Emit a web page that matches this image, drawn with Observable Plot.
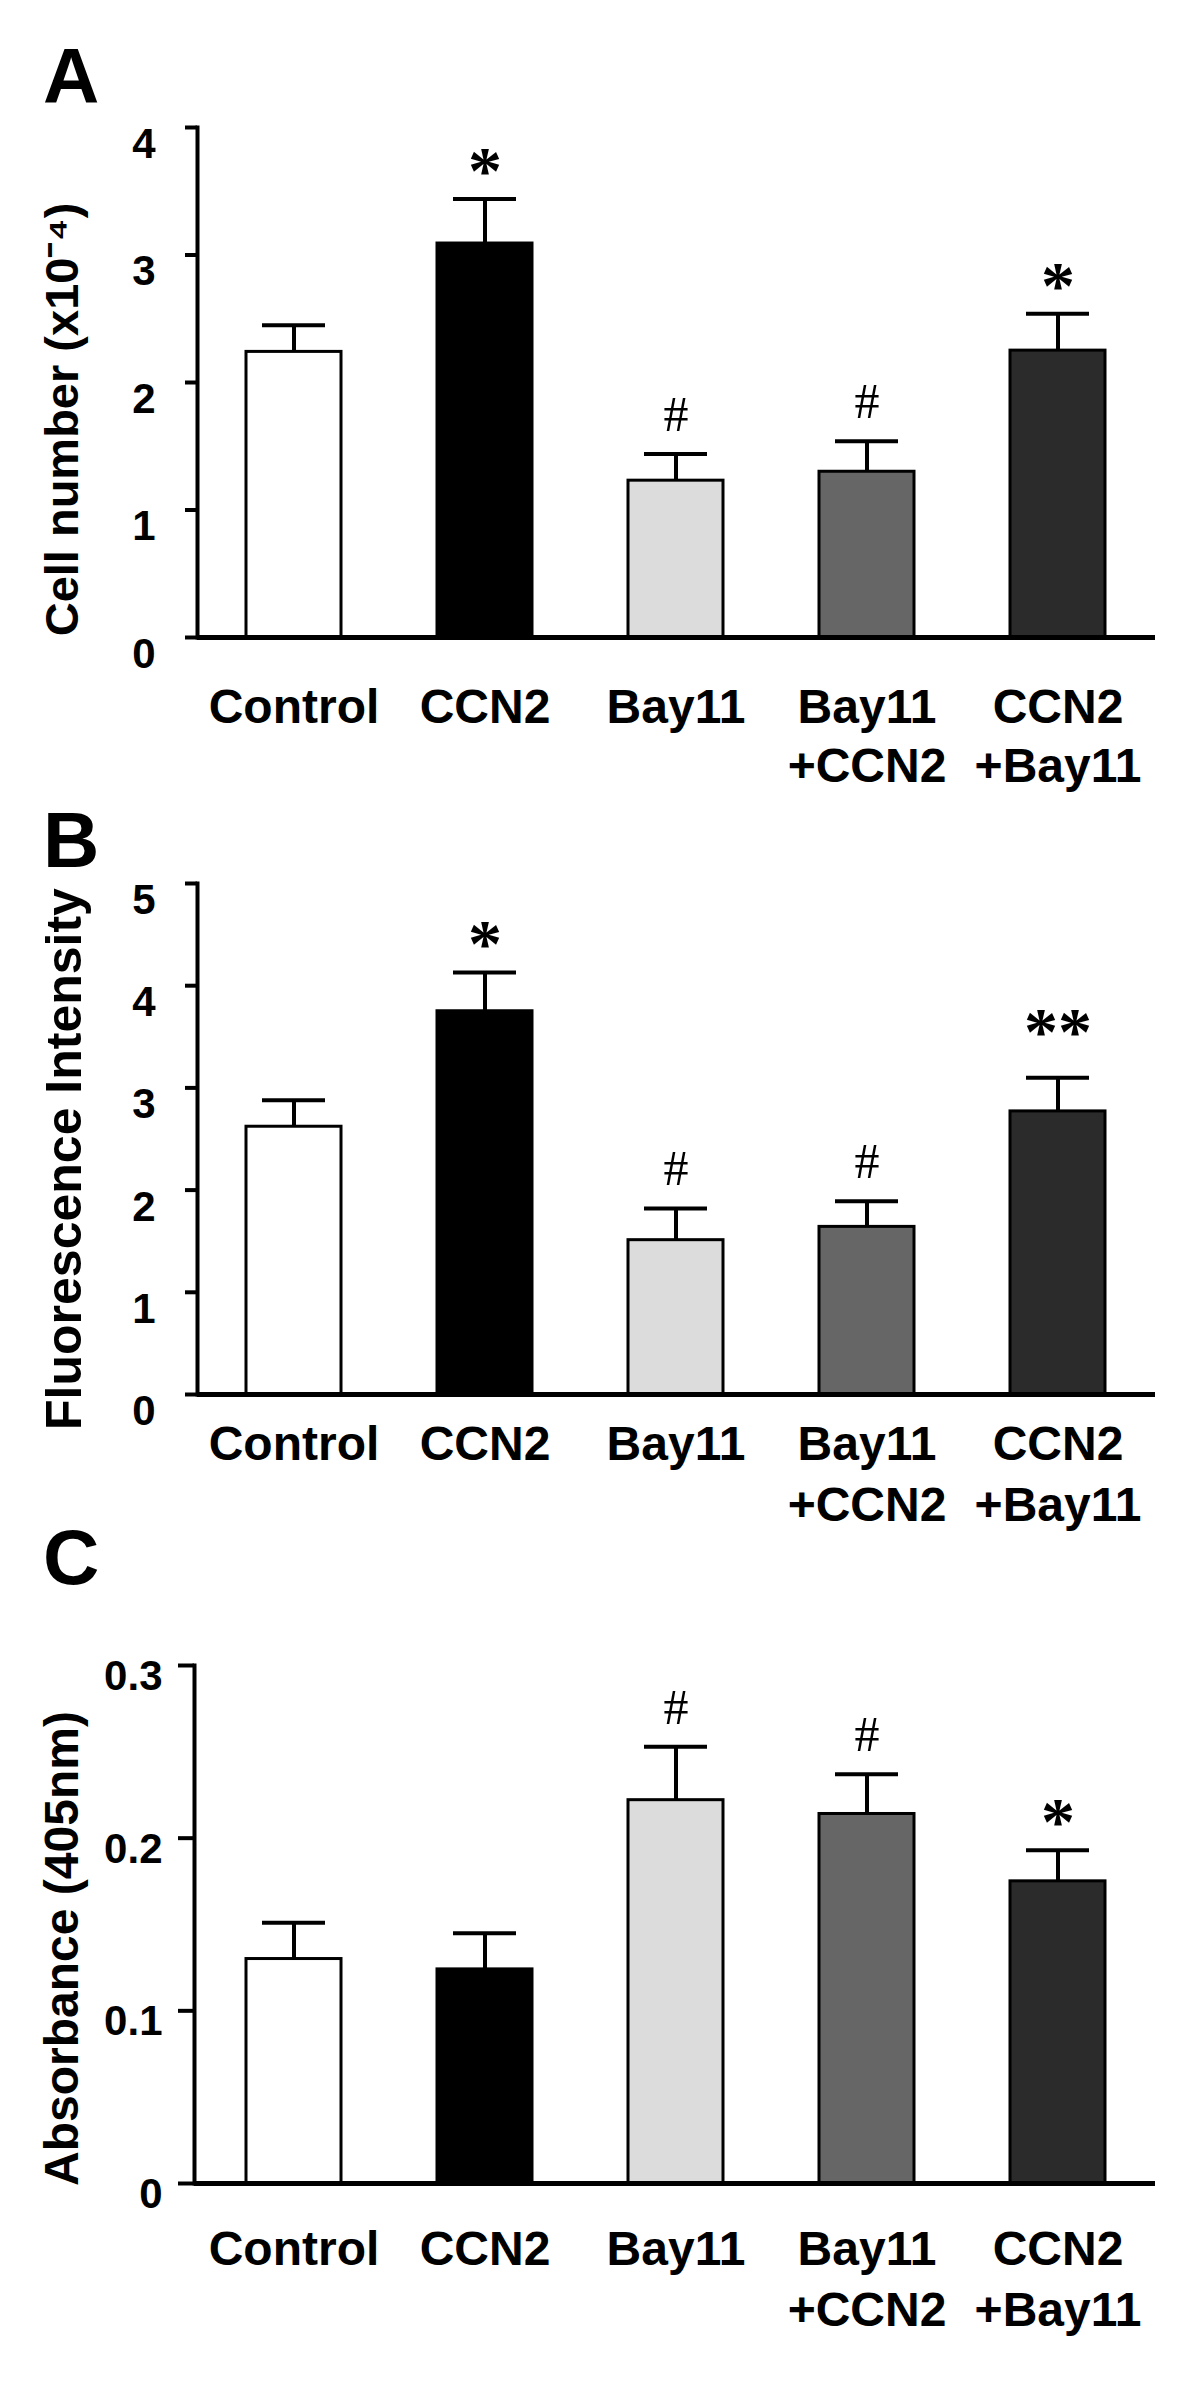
<!DOCTYPE html>
<html>
<head>
<meta charset="utf-8">
<script src="https://cdn.jsdelivr.net/npm/d3@7"></script>
<script src="https://cdn.jsdelivr.net/npm/@observablehq/plot@0.6"></script>
<style>
  html, body { margin: 0; padding: 0; background: #fff; }
  #fig { position: relative; width: 1200px; height: 2401px; background: #fff; overflow: hidden;
         font-family: "Liberation Sans", Arial, sans-serif; color: #000; }
  #fig svg { position: absolute; left: 0; }
  .letter { position: absolute; left: 43px; font-size: 78px; font-weight: bold; line-height: 1; }
</style>
</head>
<body>
<div id="fig"></div>
<script>
// ---------- data ----------
const categories = ["Control", "CCN2", "Bay11", "Bay11+CCN2", "CCN2+Bay11"];
const tickLabels = ["Control", "CCN2", "Bay11", "Bay11\n+CCN2", "CCN2\n+Bay11"];

// Panel A: cell number (x10^-4)
const cellNumber    = [2.24, 3.09, 1.23, 1.30, 2.25];
const cellNumberErr = [0.21, 0.35, 0.21, 0.24, 0.29];
const cellNumberSig = ["", "*", "#", "#", "*"];
const cellTicks     = [0, 1, 2, 3, 4];

// Panel B: fluorescence intensity
const fluorescence    = [2.62, 3.75, 1.51, 1.64, 2.77];
const fluorescenceErr = [0.26, 0.38, 0.31, 0.25, 0.33];
const fluorescenceSig = ["", "*", "#", "#", "**"];
const fluorTicks      = [0, 1, 2, 3, 4, 5];

// Panel C: absorbance (405 nm)
const absorbance    = [0.130, 0.124, 0.222, 0.214, 0.175];
const absorbanceErr = [0.021, 0.021, 0.031, 0.023, 0.018];
const absorbanceSig = ["", "", "#", "#", "*"];
const absTicks      = [0, 0.1, 0.2, 0.3];

// ---------- styles ----------
const barFills = ["#ffffff", "#000000", "#dcdcdc", "#666666", "#2b2b2b"];
const SANS = "'Liberation Sans', Arial, Helvetica, sans-serif";
const SERIF = "'Liberation Serif', 'Times New Roman', serif";
const sigStyle = {
  "*":  {fontSize: 68, dy: -6, fontWeight: "bold"},
  "**": {fontSize: 68, dy: -24, fontWeight: "bold"},
  "#":  {fontSize: 50, dy: -23, fontWeight: "normal"}
};

const fig = document.getElementById("fig");

function panel(cfg) {
  const data = categories.map((c, i) => ({
    cat: c, v: cfg.values[i], e: cfg.errs[i], sig: cfg.sigs[i], fill: barFills[i]
  }));
  const labelOf = Object.fromEntries(categories.map((c, i) => [c, tickLabels[i]]));
  const sigMarks = Object.entries(sigStyle).map(([s, st]) =>
    Plot.text(data.filter(d => d.sig === s), {
      x: "cat", y: d => d.v + d.e, text: "sig",
      fontFamily: SERIF, fontSize: st.fontSize, fontWeight: st.fontWeight, dy: st.dy,
      lineAnchor: "bottom", fill: "#000"
    })
  );
  const chart = Plot.plot({
    width: 1200,
    height: cfg.height,
    marginTop: cfg.marginTop,
    marginBottom: cfg.marginBottom,
    marginLeft: cfg.marginLeft,
    marginRight: 45,
    style: {fontFamily: SANS, background: "transparent", color: "#000", overflow: "visible"},
    x: {domain: categories, range: [244, 1106], paddingInner: 0.505, paddingOuter: 0, label: null},
    y: {domain: cfg.domain, label: null},
    color: {type: "identity"},
    marks: [
      Plot.rectY(data, {x: "cat", y: "v", fill: "fill", stroke: "#000", strokeWidth: 3}),
      Plot.ruleX(data, {x: "cat", y1: "v", y2: d => d.v + d.e, stroke: "#000", strokeWidth: 4}),
      Plot.tickY(data, {x: "cat", y: d => d.v + d.e, stroke: "#000", strokeWidth: 4, insetLeft: 16, insetRight: 16}),
      ...sigMarks,
      Plot.ruleY([0], {stroke: "#000", strokeWidth: 5}),
      Plot.frame({anchor: "left", stroke: "#000", strokeWidth: 4}),
      Plot.axisY({ticks: cfg.ticks, tickSize: cfg.tickSize, strokeWidth: 4, fill: "none", label: null}),
      Plot.axisY({ticks: cfg.ticks, tickSize: 0, tickPadding: cfg.tickPadding, dy: cfg.tickDy,
                  fontSize: 42, fontWeight: "bold", label: null, tickFormat: cfg.tickFormat}),
      Plot.axisX({tickSize: 0, tickPadding: cfg.xPad, fontSize: 48, fontWeight: "bold",
                  lineHeight: cfg.lineHeight, tickFormat: c => labelOf[c], label: null}),
      Plot.text([cfg.title], {text: d => d, frameAnchor: "left", rotate: -90,
                  dx: cfg.titleX - cfg.marginLeft, dy: cfg.titleDy,
                  fontSize: cfg.titleSize, fontWeight: "bold", textAnchor: "middle", lineAnchor: "middle"})
    ]
  });
  chart.style.top = cfg.top + "px";
  fig.appendChild(chart);
}

function letter(t, top) {
  const d = document.createElement("div");
  d.className = "letter";
  d.style.top = top + "px";
  d.textContent = t;
  fig.appendChild(d);
}

// Panel A
letter("A", 37);
panel({
  values: cellNumber, errs: cellNumberErr, sigs: cellNumberSig, ticks: cellTicks,
  domain: [0, 4], tickFormat: d => String(d),
  title: "Cell number (x10\u207B\u2074)",
  top: 0, height: 810, marginTop: 127, marginBottom: 173, marginLeft: 197,
  tickSize: 12, tickPadding: 42, tickDy: 17,
  xPad: 44, lineHeight: 1.22,
  titleX: 62, titleDy: 37, titleSize: 47
});

// Panel B
letter("B", 801);
panel({
  values: fluorescence, errs: fluorescenceErr, sigs: fluorescenceSig, ticks: fluorTicks,
  domain: [0, 5], tickFormat: d => String(d),
  title: "Fluorescence Intensity",
  top: 810, height: 740, marginTop: 73, marginBottom: 156, marginLeft: 197,
  tickSize: 12, tickPadding: 42, tickDy: 17,
  xPad: 22, lineHeight: 1.27,
  titleX: 64, titleDy: 20, titleSize: 50
});

// Panel C
letter("C", 1518);
panel({
  values: absorbance, errs: absorbanceErr, sigs: absorbanceSig, ticks: absTicks,
  domain: [0, 0.3], tickFormat: d => d === 0 ? "0" : d.toFixed(1),
  title: "Absorbance (405nm)",
  top: 1550, height: 851, marginTop: 115, marginBottom: 218, marginLeft: 194,
  tickSize: 16, tickPadding: 32, tickDy: 11,
  xPad: 38, lineHeight: 1.27,
  titleX: 62, titleDy: 24, titleSize: 48
});
</script>
</body>
</html>
